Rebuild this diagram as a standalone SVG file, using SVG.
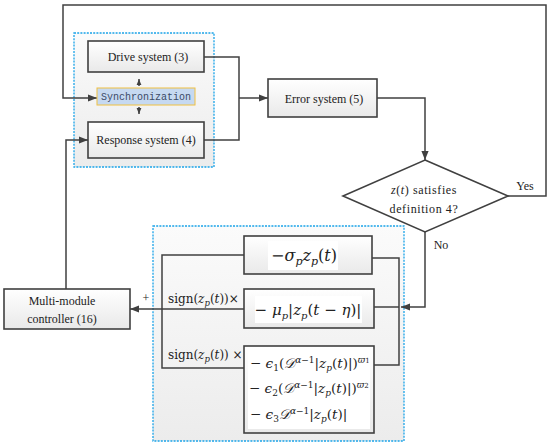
<svg xmlns="http://www.w3.org/2000/svg" width="550" height="447" viewBox="0 0 550 447">
<defs>
<linearGradient id="boxg" x1="0" y1="0" x2="0" y2="1"><stop offset="0" stop-color="#ffffff"/><stop offset="1" stop-color="#e9e9e9"/></linearGradient>
<linearGradient id="panelg" x1="0" y1="0" x2="0" y2="1"><stop offset="0" stop-color="#fbfbfb"/><stop offset="1" stop-color="#ececec"/></linearGradient>
<marker id="ah" viewBox="0 0 10 10" refX="10" refY="5" markerWidth="9" markerHeight="9" markerUnits="userSpaceOnUse" orient="auto"><path d="M0,1 L10,5 L0,9 z" fill="#404040"/></marker>
<marker id="ahs" viewBox="0 0 10 10" refX="10" refY="5" markerWidth="6" markerHeight="6" markerUnits="userSpaceOnUse" orient="auto"><path d="M0,1 L10,5 L0,9 z" fill="#404040"/></marker>
</defs>
<style>
.panel{fill:url(#panelg);stroke:#1aa3e8;stroke-width:1.3;stroke-dasharray:2,1.2}
.box{fill:url(#boxg);stroke:#404040;stroke-width:1.6}
.wire{fill:none;stroke:#404040;stroke-width:1.5}
.t{font-family:'Liberation Serif','Times New Roman','DejaVu Serif',serif;font-size:12px;fill:#222;text-anchor:middle}
.m{font-family:'DejaVu Serif','Liberation Serif',serif;fill:#222}
.mi{font-style:italic}
.wb{fill:#ffffff}
</style>
<rect class="panel" x="74" y="33" width="140" height="134"/>
<rect class="panel" x="153" y="226" width="251" height="215"/>
<g id="connectors">
<polyline class="wire" points="508,196 546,196 546,5 63,5 63,98 97,98" marker-end="url(#ah)"/>
<polyline class="wire" points="204,57 239,57 239,140 204,140"/>
<line class="wire" x1="239" y1="98" x2="268" y2="98" marker-end="url(#ah)"/>
<polyline class="wire" points="377,98 425,98 425,160" marker-end="url(#ah)"/>
<polyline class="wire" points="425,232 425,307 401,307" marker-end="url(#ah)"/>
<polyline class="wire" points="372,258 399,258 399,365 374,365"/>
<line class="wire" x1="374" y1="307" x2="399" y2="307"/>
<polyline class="wire" points="244,255 162,255 162,368 244,368"/>
<line class="wire" x1="244" y1="309" x2="130" y2="309" marker-end="url(#ah)"/>
<polyline class="wire" points="66,289 66,140 88,140" marker-end="url(#ah)"/>
<line class="wire" x1="139" y1="86" x2="139" y2="79" marker-end="url(#ahs)"/>
<line class="wire" x1="139" y1="107" x2="139" y2="114" marker-end="url(#ahs)"/>
</g>
<g id="drive"><rect class="box" x="88" y="41" width="116" height="31"/><text class="t" x="148" y="61">Drive system (3)</text></g>
<g id="sync"><rect x="97" y="88" width="98" height="17" fill="#c6d9f1" stroke="#f0c040" stroke-width="1"/><text x="146" y="100" font-family="'Liberation Mono',monospace" font-size="10" fill="#3b4a66" text-anchor="middle">Synchronization</text></g>
<g id="response"><rect class="box" x="88" y="122" width="116" height="36"/><text class="t" x="146" y="144">Response system (4)</text></g>
<g id="error"><rect class="box" x="268" y="79" width="109" height="38"/><text class="t" x="324" y="103">Error system (5)</text></g>
<g id="decision"><polygon points="425,160 508,196 425,232 343,196" fill="#ffffff" stroke="#404040" stroke-width="1.6"/>
<text class="t" x="424" y="194" font-size="14" letter-spacing="0.6"><tspan class="mi">z</tspan>(<tspan class="mi">t</tspan>) satisfies</text>
<text class="t" x="424" y="213" font-size="14" letter-spacing="0.6">definition 4?</text></g>
<text class="t" x="525" y="190">Yes</text>
<text class="t" x="441" y="249">No</text>
<g id="controller"><rect class="box" x="4" y="289" width="126" height="40"/><text class="t" x="62" y="305">Multi-module</text><text class="t" x="62" y="323">controller (16)</text></g>
<text class="t" x="146" y="302" fill="#555" font-size="13">+</text>
<g id="term1"><rect class="box" x="244" y="236" width="128" height="38"/><rect class="wb" x="268" y="241" width="70" height="29"/>
<text class="m" x="304" y="261" font-size="16" text-anchor="middle">−<tspan class="mi">σ</tspan><tspan class="mi" font-size="11" dy="4">p</tspan><tspan class="mi" dy="-4">z</tspan><tspan class="mi" font-size="11" dy="4">p</tspan><tspan dy="-4">(</tspan><tspan class="mi">t</tspan>)</text></g>
<g id="term2"><rect class="box" x="244" y="289" width="130" height="39"/><rect class="wb" x="255" y="296" width="107" height="27"/>
<text class="m" x="308" y="315" font-size="15" text-anchor="middle">− <tspan class="mi">μ</tspan><tspan class="mi" font-size="10" dy="4">p</tspan><tspan dy="-4">|</tspan><tspan class="mi">z</tspan><tspan class="mi" font-size="10" dy="4">p</tspan><tspan dy="-4">(</tspan><tspan class="mi">t</tspan> − <tspan class="mi">η</tspan>)|</text></g>
<g id="term3"><rect class="box" x="244" y="346" width="130" height="87"/><rect class="wb" x="248" y="350" width="122" height="79"/>
<text class="m" x="250" y="368" font-size="13.5">− <tspan class="mi">ϵ</tspan><tspan font-size="9" dy="3">1</tspan><tspan dy="-3">(</tspan><tspan class="mi">𝒟</tspan><tspan class="mi" font-size="9" dy="-5">α</tspan><tspan font-size="9">−1</tspan><tspan dy="5">|</tspan><tspan class="mi">z</tspan><tspan class="mi" font-size="9" dy="3">p</tspan><tspan dy="-3">(</tspan><tspan class="mi">t</tspan>)|)<tspan class="mi" font-size="9" dy="-5">ϖ</tspan><tspan font-size="7">1</tspan></text>
<text class="m" x="249" y="393" font-size="13.5">− <tspan class="mi">ϵ</tspan><tspan font-size="9" dy="3">2</tspan><tspan dy="-3">(</tspan><tspan class="mi">𝒟</tspan><tspan class="mi" font-size="9" dy="-5">α</tspan><tspan font-size="9">−1</tspan><tspan dy="5">|</tspan><tspan class="mi">z</tspan><tspan class="mi" font-size="9" dy="3">p</tspan><tspan dy="-3">(</tspan><tspan class="mi">t</tspan>)|)<tspan class="mi" font-size="9" dy="-5">ϖ</tspan><tspan font-size="7">2</tspan></text>
<text class="m" x="250" y="419" font-size="13.5">− <tspan class="mi">ϵ</tspan><tspan font-size="9" dy="3">3</tspan><tspan class="mi" dy="-3">𝒟</tspan><tspan class="mi" font-size="9" dy="-5">α</tspan><tspan font-size="9">−1</tspan><tspan dy="5">|</tspan><tspan class="mi">z</tspan><tspan class="mi" font-size="9" dy="3">p</tspan><tspan dy="-3">(</tspan><tspan class="mi">t</tspan>)|</text></g>
<g id="sign1"><text class="m" x="168" y="303" font-size="12">sign(<tspan class="mi">z</tspan><tspan class="mi" font-size="8.5" dy="3">p</tspan><tspan dy="-3">(</tspan><tspan class="mi">t</tspan>))×</text></g>
<g id="sign2"><text class="m" x="168" y="359" font-size="12">sign(<tspan class="mi">z</tspan><tspan class="mi" font-size="8.5" dy="3">p</tspan><tspan dy="-3">(</tspan><tspan class="mi">t</tspan>)) ×</text></g>
</svg>
